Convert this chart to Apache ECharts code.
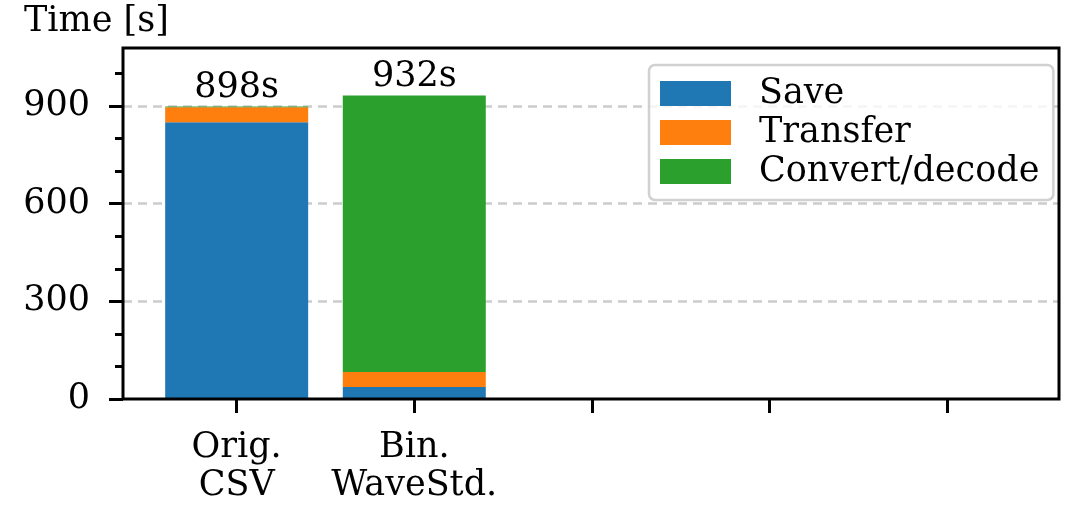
<!DOCTYPE html>
<html>
<head>
<meta charset="utf-8">
<script src="https://cdn.jsdelivr.net/npm/echarts@6/dist/echarts.min.js"></script>
<style>
  html, body { margin: 0; padding: 0; background: #fff; }
  #chart { width: 1084px; height: 505px; }
</style>
</head>
<body>
<div id="chart"></div>
<script>
// Pipeline variants (five slots, only the first two are filled)
const categories = ['Orig.\nCSV', 'Bin.\nWaveStd.', '', '', ''];
// Stage durations in seconds for each filled slot
const saveTimes     = [850, 37, null, null, null];
const transferTimes = [46, 46, null, null, null];
const convertTimes  = [2, 849, null, null, null];
const seriesNames = ['Save', 'Transfer', 'Convert/decode'];
const seriesColors = ['#1f77b4', '#ff7f0e', '#2ca02c'];
const majorTicks = [0, 300, 600, 900];
const minorTicks = [100, 200, 400, 500, 700, 800, 1000];
const gridTicks = [300, 600, 900];

const FONT = 'DejaVu Serif';
const FS = 35;
const Y_MAX = 1078;

const totals = saveTimes.map((v, i) => (v || 0) + (transferTimes[i] || 0) + (convertTimes[i] || 0));

// Frame area and the band area used by the bars (one band per slot)
const FRAME = { left: 123, top: 48, width: 936, height: 351 };
const X_MIN = -0.64, X_MAX = 4.63;
const unitPx = FRAME.width / (X_MAX - X_MIN);
const bandLeft = FRAME.left + (-0.5 - X_MIN) * unitPx;

const chart = echarts.init(document.getElementById('chart'), null, { renderer: 'canvas' });

const yBase = { type: 'value', min: 0, max: Y_MAX, interval: 100, gridIndex: 0, position: 'left' };
const noLine = { show: false, onZero: false };

chart.setOption({
  animation: false,
  textStyle: { fontFamily: FONT },
  title: {
    text: 'Time [s]',
    left: 24, top: 4, padding: 0,
    textStyle: { fontFamily: FONT, fontSize: FS, fontWeight: 'normal', color: '#000' }
  },
  legend: {
    orient: 'vertical',
    left: 649, top: 65,
    data: seriesNames,
    icon: 'rect',
    itemWidth: 71, itemHeight: 25, itemGap: 4,
    padding: [11, 14, 11, 11],
    borderColor: 'rgba(204,204,204,0.9)', borderWidth: 2.5, borderRadius: 6,
    backgroundColor: 'rgba(255,255,255,0.8)',
    selectedMode: false,
    textStyle: { fontFamily: FONT, fontSize: FS, color: '#000', padding: [0, 0, 0, 23] },
    z: 6
  },
  grid: [
    Object.assign({
      show: true, borderColor: '#000', borderWidth: 3, backgroundColor: 'transparent', z: 10
    }, FRAME),
    { left: bandLeft, top: FRAME.top, width: 5 * unitPx, height: FRAME.height }
  ],
  xAxis: [
    {
      type: 'value', min: X_MIN, max: X_MAX, gridIndex: 0, position: 'bottom',
      axisLine: noLine,
      splitLine: { show: false },
      axisTick: { show: true, customValues: [0, 1, 2, 3, 4], length: 14, lineStyle: { color: '#000', width: 3 } },
      axisLabel: {
        customValues: [0, 1],
        formatter: v => categories[Math.round(v)] || '',
        fontFamily: FONT, fontSize: FS, color: '#000', lineHeight: 38, margin: 30, align: 'center'
      }
    },
    {
      type: 'category', data: categories, gridIndex: 1, show: false, axisLine: noLine
    }
  ],
  yAxis: [
    Object.assign({}, yBase, {
      axisLine: noLine,
      splitLine: { show: false },
      axisTick: { show: true, customValues: majorTicks, length: 14, lineStyle: { color: '#000', width: 3 } },
      axisLabel: { customValues: majorTicks, fontFamily: FONT, fontSize: FS, color: '#000', margin: 33 }
    }),
    Object.assign({}, yBase, {
      axisLine: noLine,
      splitLine: { show: false },
      axisTick: { show: true, customValues: minorTicks, length: 8, lineStyle: { color: '#000', width: 3 } },
      axisLabel: { show: false }
    }),
    Object.assign({}, yBase, {
      axisLine: noLine,
      axisTick: { show: false, customValues: gridTicks },
      axisLabel: { show: false },
      splitLine: { show: true, lineStyle: { color: '#cccccc', width: 2.5, type: [9, 6] } }
    }),
    { type: 'value', min: 0, max: Y_MAX, gridIndex: 1, show: false, axisLine: noLine, splitLine: { show: false } }
  ],
  series: [saveTimes, transferTimes, convertTimes].map((arr, k) => ({
    name: seriesNames[k],
    type: 'bar',
    stack: 'total',
    xAxisIndex: 1,
    yAxisIndex: 3,
    barWidth: 143,
    itemStyle: { color: seriesColors[k] },
    data: arr,
    label: k === 2 ? {
      show: true, position: 'top', distance: 1,
      formatter: p => totals[p.dataIndex] + 's',
      fontFamily: FONT, fontSize: FS, color: '#000'
    } : { show: false }
  }))
});
</script>
</body>
</html>
